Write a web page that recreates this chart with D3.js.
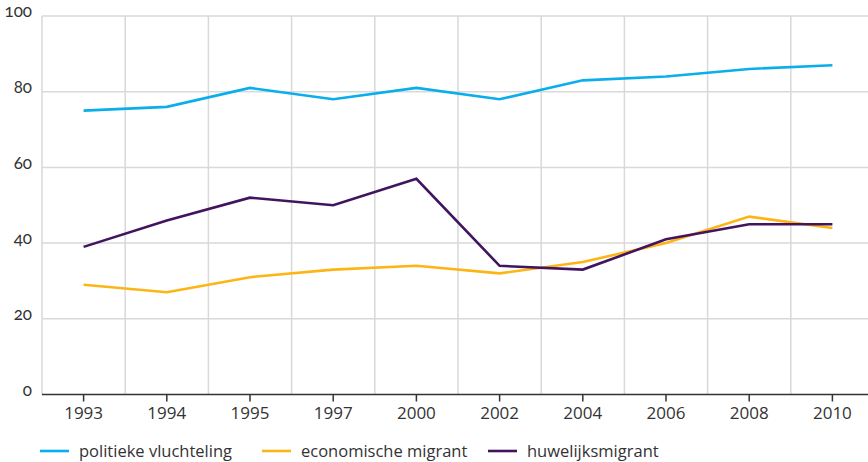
<!DOCTYPE html>
<html>
<head>
<meta charset="utf-8">
<script src="https://cdn.jsdelivr.net/npm/d3@7"></script>
<style>
  body { margin: 0; background: #fff; }
  svg text { font-family: "Open Sans", "Noto Sans", sans-serif; fill: #333; }
  .y-axis text { font-family: Lato, "Open Sans", sans-serif; font-variant-numeric: oldstyle-nums; font-feature-settings: "onum"; }
</style>
</head>
<body>
<div id="chart"></div>
<script>
var years = ["1993", "1994", "1995", "1997", "2000", "2002", "2004", "2006", "2008", "2010"];
var politiek = [75, 76, 81, 78, 81, 78, 83, 84, 86, 87];
var economisch = [29, 27, 31, 33, 34, 32, 35, 40, 47, 44];
var huwelijk = [39, 46, 52, 50, 57, 34, 33, 41, 45, 45];
var yTicks = [0, 20, 40, 60, 80, 100];

var series = [
    {name: "politieke vluchteling", values: politiek, color: "#0aaeea"},
    {name: "economische migrant", values: economisch, color: "#fdb515"},
    {name: "huwelijksmigrant", values: huwelijk, color: "#42145f"}
];

function draw_lineplot() {
    var width = 868, height = 462;
    var margin = {top: 16, left: 42};
    var plotRight = 874, plotBottom = 394.5;

    var x = d3.scaleBand()
        .domain(years)
        .range([margin.left, plotRight]);
    var y = d3.scaleLinear()
        .domain([0, 100])
        .range([plotBottom, margin.top]);

    var svg = d3.select("#chart")
        .append("svg")
        .attr("width", width)
        .attr("height", height);

    // horizontal gridlines
    svg.append("g")
        .selectAll("line")
        .data(yTicks.slice(1))
        .join("line")
        .attr("x1", margin.left)
        .attr("x2", width)
        .attr("y1", function(d) { return y(d); })
        .attr("y2", function(d) { return y(d); })
        .attr("stroke", "#d9d9d9")
        .attr("stroke-width", 1.5);

    // vertical gridlines at band edges
    svg.append("g")
        .selectAll("line")
        .data(years)
        .join("line")
        .attr("x1", function(d) { return x(d); })
        .attr("x2", function(d) { return x(d); })
        .attr("y1", margin.top)
        .attr("y2", plotBottom)
        .attr("stroke", "#d9d9d9")
        .attr("stroke-width", 1.5);

    // y axis labels
    var yAxis = d3.axisLeft(y).tickValues(yTicks).tickSize(0).tickPadding(10);
    var gy = svg.append("g")
        .attr("class", "y-axis")
        .attr("transform", "translate(" + margin.left + ",0)")
        .call(yAxis);
    gy.select(".domain").remove();
    gy.selectAll("text")
        .attr("font-size", 17)
        .attr("dy", "0.05em")
        .attr("fill", "#333");

    // x axis
    var xAxis = d3.axisBottom(x).tickSize(7).tickPadding(5);
    var gx = svg.append("g")
        .attr("transform", "translate(0," + plotBottom + ")")
        .call(xAxis);
    gx.select(".domain")
        .attr("d", "M" + margin.left + ",0H" + width)
        .attr("stroke", "#333")
        .attr("stroke-width", 1.5);
    gx.selectAll(".tick line").attr("stroke", "#333").attr("stroke-width", 1.5);
    gx.selectAll("text").attr("font-size", 17).attr("fill", "#333");

    var valueline = d3.line()
        .x(function(d, i) { return x(years[i]) + x.bandwidth() / 2; })
        .y(function(d) { return y(d); });

    svg.append("g")
        .selectAll("path")
        .data(series)
        .join("path")
        .attr("d", function(s) { return valueline(s.values); })
        .attr("fill", "none")
        .attr("stroke", function(s) { return s.color; })
        .attr("stroke-width", 2.6);

    // legend
    var legendX = [40, 262, 488];
    var legend = svg.append("g")
        .selectAll("g")
        .data(series)
        .join("g")
        .attr("transform", function(s, i) { return "translate(" + legendX[i] + ",451)"; });
    legend.append("line")
        .attr("x1", 0).attr("x2", 29)
        .attr("stroke", function(s) { return s.color; })
        .attr("stroke-width", 2.6);
    legend.append("text")
        .attr("x", 39)
        .attr("dy", "0.35em")
        .attr("font-size", 16.5)
        .text(function(s) { return s.name; });
}

draw_lineplot();
</script>
</body>
</html>
